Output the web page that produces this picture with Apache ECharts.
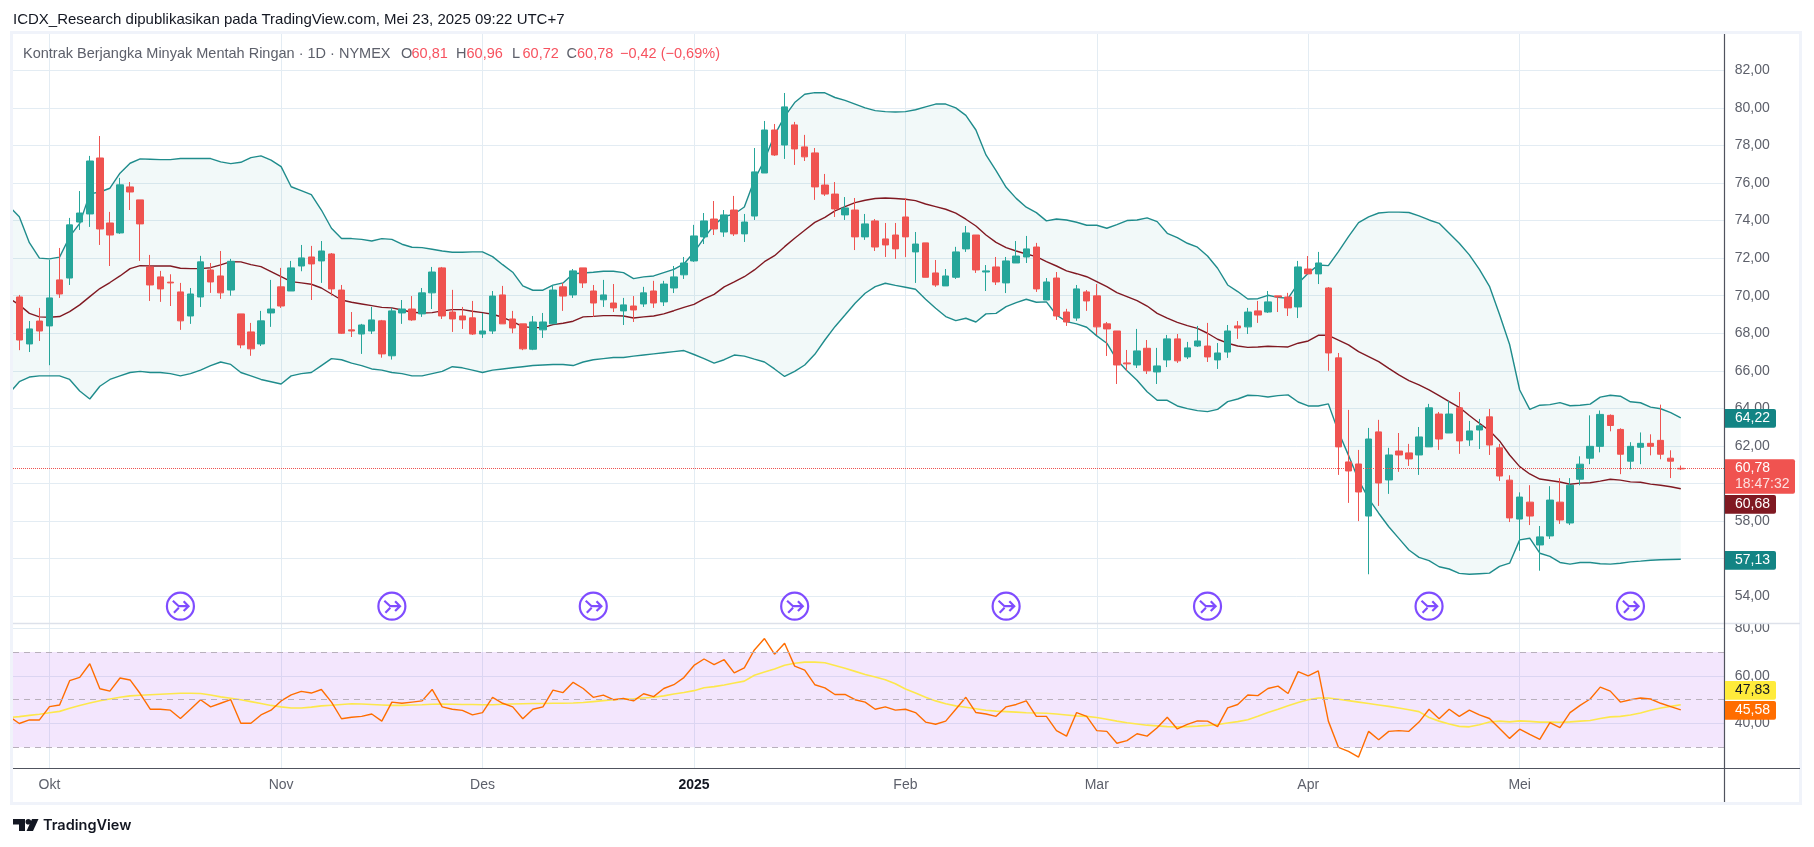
<!DOCTYPE html>
<html><head><meta charset="utf-8">
<style>html,body{margin:0;padding:0;background:#fff}#c{width:1814px;height:847px}</style>
<script src="https://cdn.jsdelivr.net/npm/echarts@6/dist/echarts.min.js"></script>
</head><body><div id="c"></div>
<script>
const opens=[69.93,67.43,68.65,68.39,70.84,70.94,73.92,74.35,77.33,73.87,
73.34,75.79,75.1,71.53,71.0,70.72,70.2,68.92,69.93,71.37,
71.05,70.3,69.03,68.07,67.43,69.08,70.47,70.25,71.58,72.06,
71.85,72.22,70.3,68.18,67.96,68.12,68.66,66.8,69.08,69.29,
69.03,70.15,71.48,69.13,68.92,68.82,67.96,68.12,70.04,68.76,
68.5,67.15,68.18,68.5,70.47,70.04,71.48,70.25,69.78,69.61,
69.19,69.45,69.56,70.25,69.67,70.41,71.11,71.85,73.13,74.08,
73.39,74.56,73.29,74.24,76.53,78.82,78.02,79.09,77.92,77.6,
75.89,75.41,74.3,74.56,73.13,73.98,73.02,73.23,74.19,72.33,
72.81,71.21,70.52,70.98,72.49,73.23,71.26,71.53,70.68,71.74,
72.06,72.59,69.77,70.94,69.13,68.81,70.2,69.99,68.5,68.12,
66.42,66.31,67.2,65.94,66.58,67.7,66.74,67.32,67.32,66.58,
67.0,68.39,68.34,69.19,69.13,69.99,69.93,69.4,71.42,71.16,
70.41,66.69,61.15,61.04,58.27,62.75,60.19,61.73,61.63,61.52,
61.95,63.7,62.69,64.03,62.32,62.85,63.55,61.9,60.18,58.11,
59.01,56.73,57.21,59.01,57.9,60.23,61.35,61.98,63.63,62.88,
61.19,61.93,62.14,62.3,61.35,60.81];
const closes=[67.64,68.23,68.12,69.88,70.09,73.77,74.4,77.17,73.55,73.23,
75.9,75.52,73.82,70.57,70.36,70.68,68.66,70.09,71.8,70.73,
70.15,71.83,67.38,67.17,68.66,69.29,69.45,71.48,72.01,71.69,
72.38,70.36,68.0,68.12,68.44,68.71,66.9,69.19,69.29,68.71,
70.15,71.26,68.92,68.76,68.71,67.96,68.12,69.98,68.5,68.28,
67.17,68.6,68.6,70.3,69.98,71.32,70.68,69.61,70.04,69.35,
69.51,69.24,70.15,69.61,70.62,71.0,71.74,73.18,73.98,73.55,
74.3,73.29,73.92,76.59,78.82,77.49,80.05,77.81,77.39,75.79,
75.41,74.62,74.67,73.13,73.82,72.59,72.7,72.49,73.13,72.75,
70.98,70.57,71.05,72.33,73.34,71.37,71.32,70.73,71.85,72.11,
72.49,70.36,70.73,68.92,68.6,70.36,69.72,68.34,68.23,66.31,
66.37,67.06,66.0,66.26,67.7,66.53,67.22,67.59,66.74,66.95,
68.12,68.28,69.13,68.97,69.67,69.93,69.35,71.53,71.16,71.74,
66.95,61.95,60.67,59.55,62.37,60.03,61.52,61.52,61.31,62.48,
64.03,62.37,63.7,62.27,62.8,63.07,62.05,60.4,58.17,59.28,
58.27,57.16,59.12,58.06,59.91,61.03,61.98,63.68,63.09,61.56,
61.98,62.14,61.98,61.56,61.19,60.78];
const lows=[67.1,67.0,67.59,66.3,69.88,70.57,73.5,73.66,72.7,71.58,
73.29,74.56,71.85,69.72,69.67,69.45,68.18,68.5,69.4,70.15,
69.83,70.0,67.2,66.8,67.32,68.34,69.35,70.25,71.3,69.77,
70.68,70.0,67.96,67.8,66.9,67.96,66.7,66.6,68.5,68.66,
68.87,69.29,68.76,68.07,68.23,67.91,67.75,67.96,68.5,68.0,
67.1,67.1,67.75,68.5,69.19,69.88,70.41,68.87,69.4,69.13,
68.44,68.6,69.4,69.35,69.45,70.14,70.89,71.8,72.75,73.23,
73.13,73.18,72.86,74.03,76.53,77.44,77.28,76.96,77.17,75.1,
75.31,74.19,74.03,72.43,72.97,72.38,72.06,71.96,72.06,70.68,
70.98,70.47,70.52,70.89,72.33,71.21,70.25,70.57,70.14,71.74,
71.74,70.2,69.77,68.71,68.39,68.66,69.19,67.91,66.79,65.3,
66.0,66.15,65.83,65.3,66.2,66.42,66.63,67.27,66.47,66.1,
66.69,67.7,67.96,68.55,69.08,69.13,68.92,68.81,71.16,70.62,
66.0,60.46,58.97,58.0,55.17,58.81,59.45,60.62,60.94,60.46,
61.95,61.79,62.69,61.58,62.0,61.84,61.52,60.14,57.95,56.42,
57.79,55.36,57.05,57.85,57.79,59.91,61.03,61.66,62.78,60.5,
60.76,61.03,61.5,61.29,60.29,60.72];
const highs=[70.04,68.65,69.35,71.9,72.54,74.14,75.57,77.44,78.5,74.46,
76.27,76.05,75.1,72.17,71.32,71.14,70.68,70.41,72.12,71.74,
72.38,71.96,69.03,68.55,69.19,70.84,71.48,71.85,72.7,72.65,
72.91,72.27,70.57,69.13,68.5,69.4,68.71,69.35,69.77,69.98,
70.41,71.53,71.53,70.31,69.4,69.72,69.08,70.25,70.52,69.19,
68.5,68.92,69.08,70.57,70.68,71.42,71.48,70.57,70.84,70.62,
69.88,69.98,70.47,70.79,70.79,71.58,72.06,73.77,74.4,75.04,
74.56,75.31,74.35,77.86,79.3,79.14,80.79,79.25,78.56,77.86,
76.48,76.05,75.25,75.2,74.35,74.08,73.87,73.87,75.2,73.39,
72.81,71.9,71.42,72.6,73.71,73.23,71.63,72.06,72.06,72.91,
73.18,72.81,70.94,71.26,69.3,70.57,70.3,70.62,68.6,68.12,
67.11,68.23,67.64,67.22,67.91,67.96,67.54,68.39,68.55,67.48,
68.44,68.65,69.35,69.72,70.25,69.99,70.15,71.85,72.11,72.33,
70.46,66.95,63.92,61.79,62.96,63.39,61.9,62.69,62.11,63.01,
64.24,63.81,64.4,64.87,63.33,63.44,63.97,62.11,60.44,59.53,
59.91,57.74,59.86,60.29,60.29,61.45,63.63,63.89,63.68,62.94,
62.2,62.72,62.62,64.2,61.77,60.96];
// Bollinger and RSI series start one bar earlier than the candles (bar -1 is cut by the pane edge)
const bbUpper=[74.75,
74.2,72.82,72.0,71.96,72.05,73.14,73.85,75.42,75.52,75.72,
76.52,77.05,77.28,77.26,77.24,77.24,77.3,77.3,77.3,77.3,
77.12,77.03,77.1,77.35,77.44,77.22,76.87,75.8,75.59,75.38,
74.56,73.59,73.04,73.04,73.0,72.91,73.04,73.0,72.74,72.58,
72.56,72.47,72.38,72.31,72.31,72.33,72.33,72.08,71.65,71.25,
70.52,70.29,70.29,70.56,70.68,71.17,71.21,71.25,71.3,71.3,
71.23,70.91,71.0,71.05,71.23,71.4,71.69,72.31,73.06,73.77,
74.21,74.35,74.72,76.16,77.22,78.55,79.53,80.28,80.72,80.81,
80.8,80.55,80.4,80.2,80.0,79.85,79.8,79.78,79.8,79.9,
80.05,80.2,80.2,80.0,79.6,78.82,77.49,76.66,75.77,75.18,
74.71,74.42,73.98,74.08,74.03,73.91,73.75,73.75,73.59,73.78,
74.0,74.03,74.14,73.94,73.32,73.09,72.79,72.58,72.11,71.46,
70.57,70.22,69.82,69.84,70.02,69.91,69.86,70.66,71.2,71.63,
71.6,72.35,73.14,73.89,74.2,74.4,74.45,74.45,74.43,74.25,
74.03,73.85,73.32,72.79,72.17,71.4,70.5,69.0,67.4,64.98,
63.95,64.17,64.2,64.31,64.14,64.17,64.23,64.6,64.7,64.65,
64.35,64.3,64.07,63.98,63.77,63.5];
const bbBasis=[69.86,
69.51,69.06,68.87,68.85,68.89,69.15,69.51,69.95,70.38,70.7,
71.05,71.44,71.6,71.58,71.58,71.58,71.46,71.44,71.44,71.49,
71.64,71.81,71.8,71.65,71.55,71.28,71.01,70.75,70.68,70.61,
70.41,70.09,69.77,69.65,69.56,69.47,69.38,69.35,69.24,69.12,
69.08,69.1,69.19,69.26,69.26,69.17,69.1,69.01,68.85,68.62,
68.35,68.3,68.3,68.46,68.53,68.64,68.87,68.9,68.94,68.94,
68.92,68.81,68.87,68.92,69.03,69.2,69.38,69.54,69.83,70.07,
70.47,70.73,71.01,71.37,71.81,72.13,72.61,73.06,73.48,73.9,
74.17,74.51,74.74,74.95,75.08,75.17,75.2,75.17,75.13,75.06,
74.88,74.74,74.6,74.39,74.07,73.71,73.23,72.84,72.56,72.38,
72.22,72.08,71.81,71.58,71.32,71.17,71.01,70.75,70.48,70.16,
69.95,69.74,69.45,69.06,68.8,68.58,68.41,68.26,68.0,67.68,
67.47,67.32,67.25,67.27,67.31,67.29,67.27,67.47,67.59,67.89,
67.89,67.64,67.38,67.02,66.76,66.49,66.13,65.78,65.48,65.25,
64.98,64.68,64.36,64.06,63.62,63.21,62.82,62.27,61.52,60.9,
60.51,60.24,60.16,60.08,59.96,60.02,60.04,60.13,60.23,60.18,
60.09,60.07,59.97,59.91,59.83,59.72];
const bbLower=[64.8,
65.42,65.67,65.73,65.73,65.73,65.54,64.93,64.5,65.18,65.54,
65.73,65.91,65.97,65.91,65.91,65.85,65.73,65.85,66.04,66.28,
66.47,66.34,65.91,65.73,65.54,65.42,65.3,65.73,65.85,65.91,
66.28,66.65,66.59,66.41,66.28,66.1,66.04,65.91,65.85,65.73,
65.73,65.85,65.97,66.22,66.16,66.04,65.91,66.04,66.1,66.16,
66.22,66.28,66.31,66.34,66.34,66.28,66.47,66.59,66.65,66.71,
66.71,66.78,66.84,66.9,66.96,67.02,67.08,66.87,66.65,66.41,
66.59,66.84,66.78,66.62,66.47,66.1,65.7,65.97,66.31,66.88,
67.64,68.35,68.97,69.6,70.13,70.48,70.66,70.55,70.45,70.34,
69.81,69.33,68.89,68.67,68.8,68.6,69.03,69.06,69.42,69.63,
69.81,69.65,69.67,68.97,68.62,68.5,68.32,67.86,67.47,66.58,
66.0,65.5,64.89,64.43,64.43,64.13,63.99,63.88,63.83,63.95,
64.36,64.5,64.7,64.68,64.61,64.68,64.72,64.34,64.13,64.13,
64.24,62.76,61.5,60.19,59.2,58.42,57.7,57.08,56.46,56.07,
55.9,55.57,55.45,55.22,55.17,55.2,55.23,55.59,55.76,57.0,
57.09,56.29,56.12,55.8,55.71,55.8,55.8,55.73,55.71,55.76,
55.83,55.87,55.92,55.94,55.96,55.97];
const rsi=[43,
40,41.5,41.5,47.1,47.8,58,59.4,65.1,54.6,53.6,
59.1,58.3,52.6,46,46,45.6,42.1,46,50,47,
48.5,50,40.1,40.1,43.6,45.6,49.5,52,53.5,52.8,
54.3,49,42,42.6,43,44,41,49,48.5,49,
49.5,54.3,47,46,45.5,43.6,44.6,51,48.5,47,
42,46,47,54,53,57.3,54.7,51,51.9,50,
50.5,49.5,52.5,51.3,54.7,56.3,59.3,64.4,67.1,64.7,
66.8,61.3,63.4,70.9,75.7,69.1,73.7,64.1,62.4,56.3,
55,52.2,52.2,50,49,46,47,45.6,46,44.6,
40.6,39.7,41,46,51,44.6,44,43,47,48,
49.5,43,43,37,34.7,44.6,43,37,36.7,31.7,
32.8,35.7,34.7,38.2,42.6,37.7,39.6,41.1,41,38.7,
46.6,48,52,51.7,54.7,55.7,52.6,61.8,60,62.1,
41,30,28.3,25.9,36.7,33.2,36.7,37,36.7,40.6,
46,42,46,43,45.6,43.6,42.1,37.9,33.75,37.6,
35.4,33.3,40.4,38.3,44.6,47.6,50.3,55.3,53.6,49,
50,50.7,50.3,48.5,47.1,45.7];
const rsiMa=[42.5,
42.9,43.4,43.9,44.5,45.1,46.4,47.6,48.6,49.6,50.3,
51,51.6,51.9,52.1,52.3,52.5,52.7,52.7,52.6,52,
51.2,50.6,50,49.2,48.4,47.6,47,46.5,46.5,46.9,
47.4,47.7,48,48.3,48.2,48,47.8,47.6,47.6,47.8,
47.9,48.1,48.2,48.1,48,48,47.9,47.9,48.1,48.2,
48.3,48.4,48.4,48.5,48.5,48.6,48.8,49.2,49.6,50,
50.2,50.4,50.7,51,51.6,52.4,53,53.8,55,55.5,
56.2,57,57.8,60.3,61.6,62.9,64.5,65.3,65.8,65.8,
65.5,64.4,63.2,61.9,60.6,59.5,58.4,56.7,54.5,52.8,
51,49.5,48.3,47.4,46.8,46.2,45.6,45.2,45,44.8,
44.5,44.4,44.3,44,43.6,43.2,43,42.5,41.8,41,
40.3,39.8,39.3,39,38.7,38.6,38.7,38.9,39.2,39.6,
40.2,40.8,41.6,43,44.6,46,47.5,48.8,50,50.7,
50.7,50.2,49.6,49,48.4,47.8,47.2,46.5,45.8,45,
42.5,41,39.8,38.8,38.6,39.5,40.6,41,40.7,41.1,
40.9,40.6,40.6,40.5,40.7,41,41.25,42.1,42.8,43,
43.6,44.4,45.6,46.5,47.2,47.9];
const monthTicks=[3,26,46,67,88,107,128,149];
const monthLabels=['Okt','Nov','Des','2025','Feb','Mar','Apr','Mei'];
const priceTicks=[54,56,58,60,62,64,66,68,70,72,74,76,78,80,82];
const rsiTicks=[40,60,80];
const rsiLevels=[70,50,30];
const eventBars=[16,37,57,77,98,118,140,160];
const eventLevel=53.47;
const priceLine=60.81;

const bar0=-1;
const fmt=v=>v.toFixed(2).replace('.',',');
const xy=a=>a.map((v,i)=>[i+bar0,v]);
const candleData=opens.map((o,i)=>[i,o,closes[i],lows[i],highs[i]]);
const grey='#5d606b', grid='#e3ecf3', axisDark='#50535e';
const iconPath='path://M14 1.5A12.5 12.5 0 1 1 14 26.5A12.5 12.5 0 1 1 14 1.5ZM7 9L12.5 14L21.5 14M8 20L12.5 15.5M17 9.5L21.5 14L17 18.5';

const xCommon={type:'value',min:-0.626,max:169.36,axisLine:{show:false},
  splitLine:{show:true,lineStyle:{color:grid,width:1}},
  axisTick:{show:false,customValues:monthTicks},
  axisLabel:{show:false}};
const ui='"Liberation Sans",sans-serif';

const option={
 animation:false,backgroundColor:'#fff',
 grid:[{left:13,top:34,width:1711.7,height:589.3},{left:13,top:623.3,width:1711.7,height:145}],
 xAxis:[Object.assign({gridIndex:0},xCommon),
  Object.assign({gridIndex:1},xCommon,{
   axisLabel:{show:true,customValues:monthTicks,color:grey,fontSize:14,fontFamily:ui,margin:10,hideOverlap:false,
    formatter:v=>{const s=monthLabels[monthTicks.indexOf(v)]||'';return s==='2025'?'{b|'+s+'}':s;},
    rich:{b:{fontWeight:'bold',fontSize:14,color:'#131722',fontFamily:ui}}}})],
 yAxis:[{type:'value',gridIndex:0,position:'right',min:52.56,max:83.93,scale:true,
   axisLine:{show:false},axisTick:{show:false,customValues:priceTicks},
   splitLine:{show:true,lineStyle:{color:grid,width:1}},
   axisLabel:{customValues:priceTicks,color:grey,fontSize:14,fontFamily:ui,margin:10,padding:[0,0,2,0],formatter:fmt}},
  {type:'value',gridIndex:1,position:'right',min:21.18,max:82.1,scale:true,
   axisLine:{show:false},axisTick:{show:false,customValues:rsiTicks},
   splitLine:{show:true,lineStyle:{color:grid,width:1}},
   axisLabel:{customValues:rsiTicks,color:grey,fontSize:14,fontFamily:ui,margin:10,padding:[0,0,2,0],formatter:fmt}}],
 series:[
  {type:'custom',name:'BB fill',xAxisIndex:0,yAxisIndex:0,clip:true,silent:true,z:1,
   encode:{x:0,y:1},data:xy(bbUpper),
   renderItem:(params,api)=>{
     if(params.dataIndex!==0) return null;
     const top=bbUpper.map((v,i)=>api.coord([i+bar0,v]));
     const bot=bbLower.map((v,i)=>api.coord([i+bar0,v])).reverse();
     return {type:'polygon',shape:{points:top.concat(bot)},style:{fill:'rgba(0,128,128,0.05)'}};
   }},
  {type:'line',name:'Upper',symbol:'none',lineStyle:{color:'#1f8c8c',width:1.4},data:xy(bbUpper),z:2},
  {type:'line',name:'Lower',symbol:'none',lineStyle:{color:'#1f8c8c',width:1.4},data:xy(bbLower),z:2},
  {type:'line',name:'Basis',symbol:'none',lineStyle:{color:'#801922',width:1.4},data:xy(bbBasis),z:3},
  {type:'candlestick',name:'CL',xAxisIndex:0,yAxisIndex:0,barWidth:7,z:4,
   encode:{x:0,y:[1,2,3,4]},data:candleData,
   itemStyle:{color:'#26a69a',color0:'#ef5350',borderColor:'#26a69a',borderColor0:'#ef5350',borderWidth:1},
   markLine:{silent:true,symbol:'none',label:{show:false},animation:false,
    lineStyle:{color:'#ef5350',type:'dotted',width:1},data:[{yAxis:priceLine}]}},
  {type:'scatter',name:'Events',xAxisIndex:0,yAxisIndex:0,symbol:iconPath,symbolSize:27,z:5,silent:true,
   itemStyle:{color:'#ffffff',borderColor:'#5f1fff',borderWidth:2.2},
   data:eventBars.map(i=>[i,eventLevel])},
  {type:'line',name:'RSI MA',xAxisIndex:1,yAxisIndex:1,symbol:'none',lineStyle:{color:'#fde74c',width:1.6},data:xy(rsiMa),z:3,
   markArea:{silent:true,itemStyle:{color:'rgba(170,80,240,0.14)'},data:[[{yAxis:rsiLevels[0]},{yAxis:rsiLevels[2]}]]},
   markLine:{silent:true,symbol:'none',label:{show:false},lineStyle:{color:'#b8b0bc',type:[6,5],width:1},
    data:rsiLevels.map(v=>({yAxis:v}))}},
  {type:'line',name:'RSI',xAxisIndex:1,yAxisIndex:1,symbol:'none',lineStyle:{color:'#ff6d00',width:1.4},data:xy(rsi),z:4}
 ],
 graphic:[
  {type:'rect',z:50,shape:{x:11.5,y:32.5,width:1789,height:771},style:{fill:'none',stroke:'#f0f3fa',lineWidth:3}},
  {type:'rect',z:51,shape:{x:1726,y:612,width:70,height:11},style:{fill:'#fff'}},
  {type:'line',z:52,shape:{x1:13,y1:623.5,x2:1800,y2:623.5},style:{stroke:'#dde1ea',lineWidth:1.5}},
  {type:'line',z:52,shape:{x1:13,y1:768.5,x2:1800,y2:768.5},style:{stroke:axisDark,lineWidth:1.2}},
  {type:'line',z:52,shape:{x1:1724.5,y1:34,x2:1724.5,y2:802},style:{stroke:axisDark,lineWidth:1.2}},
  // publication line
  {type:'text',z:60,x:13,y:20,style:{text:'ICDX_Research dipublikasikan pada TradingView.com, Mei 23, 2025 09:22 UTC+7',fill:'#131722',font:'15px '+ui,textVerticalAlign:'middle'}},
  // legend line
  {type:'text',z:60,x:23,y:54,style:{text:'Kontrak Berjangka Minyak Mentah Ringan · 1D · NYMEX',fill:'#5d606b',font:'14.5px '+ui,textVerticalAlign:'middle'}},
  ...[['O','60,81',401],['H','60,96',456],['L','60,72',512],['C','60,78',566.5]].flatMap(([k,v,x])=>[
    {type:'text',z:60,x:x,y:54,style:{text:k,fill:'#5d606b',font:'14.5px '+ui,textVerticalAlign:'middle'}},
    {type:'text',z:60,x:x+10.5,y:54,style:{text:v,fill:'#f7525f',font:'14.5px '+ui,textVerticalAlign:'middle'}}]),
  {type:'text',z:60,x:620,y:54,style:{text:'−0,42 (−0,69%)',fill:'#f7525f',font:'14.5px '+ui,textVerticalAlign:'middle'}},
  // value tags
  ...[[409,18.7,'#138484','64,22','#fff'],[495,18.7,'#801922','60,68','#fff'],[551,18.7,'#138484','57,13','#fff'],
      [681,18.7,'#ffeb3b','47,83','#131722'],[701,18.7,'#ff6d00','45,58','#fff']].flatMap(([y,h,c,t,f])=>[
    {type:'rect',z:70,shape:{x:1725,y:y,width:51,height:h,r:[0,2,2,0]},style:{fill:c}},
    {type:'text',z:71,x:1735,y:y+h/2,style:{text:t,fill:f,font:'14px '+ui,textVerticalAlign:'middle'}}]),
  {type:'rect',z:70,shape:{x:1725,y:459.3,width:70,height:34.4,r:[0,2,2,0]},style:{fill:'#f05350'}},
  {type:'text',z:71,x:1735,y:468,style:{text:'60,78',fill:'#fff',font:'14px '+ui,textVerticalAlign:'middle'}},
  {type:'text',z:71,x:1735,y:484,style:{text:'18:47:32',fill:'#fde0df',font:'14px '+ui,textVerticalAlign:'middle'}},
  // footer logo and wordmark
  {type:'polygon',z:60,shape:{points:[[13,819],[25,819],[25,831],[19,831],[19,824.5],[13,824.5]]},style:{fill:'#131722'}},
  {type:'polygon',z:60,shape:{points:[[32,819],[38.5,819],[33,831],[26.5,831]]},style:{fill:'#131722'}},
  {type:'circle',z:60,shape:{cx:28.3,cy:821.8,r:2.8},style:{fill:'#131722'}},
  {type:'text',z:60,x:43,y:825.5,style:{text:'TradingView',fill:'#131722',font:'600 14.5px Inter,'+ui,textVerticalAlign:'middle'}}
 ]
};
echarts.init(document.getElementById('c'),null,{renderer:'canvas'}).setOption(option);
</script></body></html>
